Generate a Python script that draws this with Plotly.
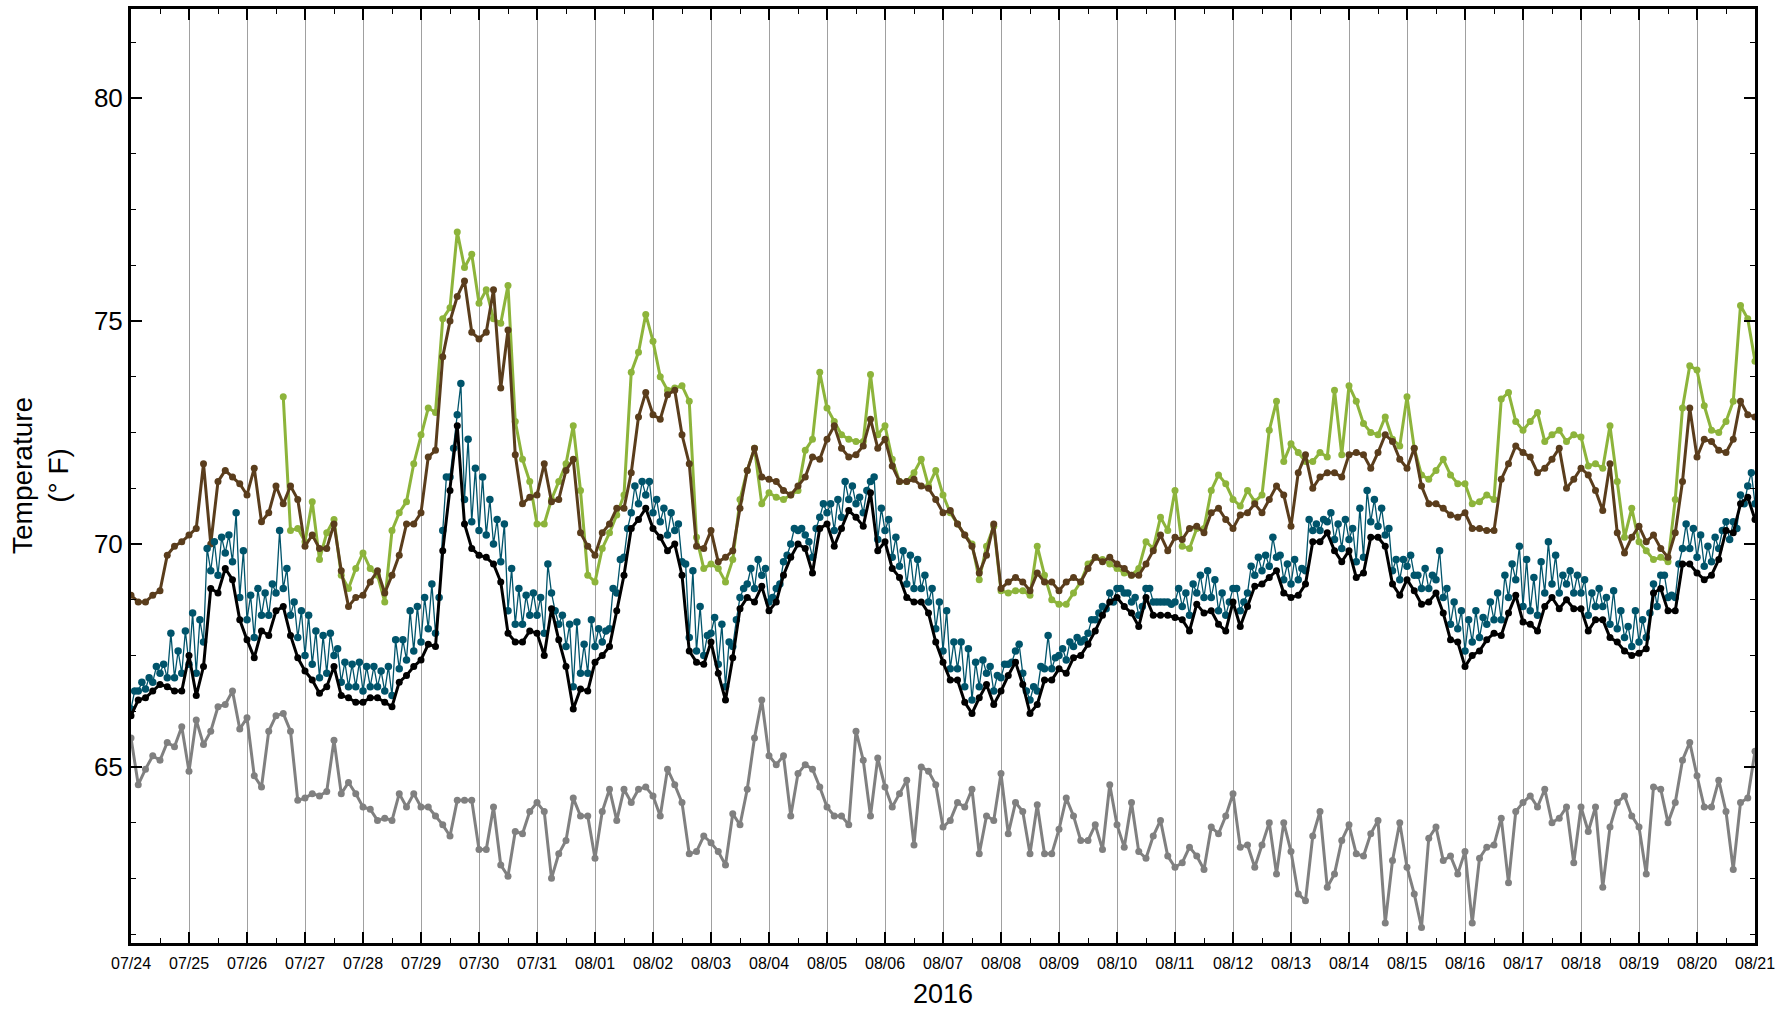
import plotly.graph_objects as go
import pandas as pd

# 3-hourly samples from 2016-07-24 00:00 to 2016-08-21 00:00 (225 points)
times = pd.date_range("2016-07-24 00:00", periods=225, freq="3h")
times_half = times + pd.Timedelta(minutes=90)

brown = [
    68.85, 68.7, 68.7, 68.85, 68.95, 69.75, 69.95, 70.05, 70.2, 70.35, 71.8, 70.0, 71.4, 71.65, 71.5, 71.35, 71.1, 71.7, 70.5, 70.7,
    71.3, 70.9, 71.3, 71.0, 69.95, 70.2, 69.9, 69.9, 70.45, 69.4, 68.6, 68.8, 68.85, 69.15, 69.4, 68.9, 69.3, 69.75,
    70.45, 70.45, 70.7, 71.95, 72.1, 74.2, 75.0, 75.55, 75.9, 74.75, 74.6, 74.75, 75.7, 73.5, 74.8, 72.0, 70.9, 71.05, 71.1, 71.8,
    70.95, 71.0, 71.65, 71.9, 70.25, 69.95, 69.75, 70.25, 70.45, 70.8, 70.8, 71.6, 72.85, 73.4, 72.9, 72.8, 73.35,
    73.45, 72.45, 71.8, 69.95, 69.9, 70.3, 69.6, 69.7, 69.85, 70.8, 71.65, 72.15, 71.5, 71.45, 71.4, 71.2, 71.1, 71.3, 71.5, 71.95,
    71.9, 72.35, 72.65, 72.15, 71.95, 72.0, 72.2, 72.8, 72.15, 72.35, 71.75, 71.4, 71.4, 71.45, 71.3, 71.25, 71.0,
    70.7, 70.75, 70.45, 70.2, 69.95, 69.35, 69.75, 70.45, 69.0, 69.15, 69.25, 69.15, 68.95, 69.35, 69.15, 69.15, 68.95, 69.15, 69.25, 69.15,
    69.45, 69.7, 69.6, 69.7, 69.55, 69.45, 69.3, 69.3, 69.55, 69.85, 70.2, 69.85, 70.15, 70.1, 70.35, 70.4, 70.25,
    70.7, 70.8, 70.55, 70.35, 70.65, 70.7, 70.9, 70.7, 71.0, 71.3, 71.1, 70.4, 71.6, 72.0, 71.25, 71.5, 71.6, 71.6, 71.5, 72.0,
    72.05, 72.0, 71.7, 72.05, 72.45, 72.3, 71.9, 71.7, 72.15, 71.3, 70.9, 70.9, 70.8, 70.65, 70.6, 70.7, 70.35, 70.35,
    70.3, 70.3, 71.45, 71.8, 72.2, 72.05, 71.95, 71.6, 71.7, 71.9, 72.15, 71.25, 71.45, 71.7, 71.55, 71.2, 70.75, 71.8, 70.25, 69.8,
    70.15, 70.4, 70.05, 70.2, 69.9, 69.7, 70.25, 71.4, 73.05, 71.95, 72.35, 72.3, 72.1, 72.05, 72.35, 73.2, 72.9, 72.85,
]

green = [None] * 21 + [
    73.3, 70.3, 70.35, 70.05, 70.95, 69.65, 70.25, 70.55, 69.3, 69.0, 69.45, 69.8, 69.45, 69.3, 68.7, 70.3, 70.7,
    70.95, 71.8, 72.45, 73.05, 72.95, 75.05, 75.3, 77.0, 76.2, 76.5, 75.4, 75.7, 75.05, 74.95, 75.8, 72.75, 71.9, 71.4, 70.45, 70.45,
    71.0, 71.4, 71.8, 72.65, 71.2, 69.3, 69.15, 69.9, 70.25, 70.65, 71.1, 73.85, 74.3, 75.15, 74.55, 73.75, 73.45,
    73.5, 73.55, 73.2, 70.15, 69.45, 69.55, 69.45, 69.15, 69.65, 71.0, 71.65, 72.15, 70.9, 71.15, 71.05, 71.0, 71.1, 71.2, 72.1, 72.35,
    73.85, 73.05, 72.75, 72.45, 72.35, 72.3, 72.3, 73.8, 72.45, 72.65, 71.9, 71.4, 71.4, 71.6, 71.9, 71.3, 71.65,
    71.1, 70.7, 70.45, 70.2, 70.0, 69.2, 69.95, 70.4, 68.95, 68.9, 68.95, 68.95, 68.85, 69.95, 69.3, 68.75, 68.65, 68.65, 68.9, 69.15,
    69.55, 69.7, 69.65, 69.55, 69.45, 69.35, 69.3, 69.45, 70.05, 69.9, 70.6, 70.3, 71.2, 69.95, 69.9, 70.35, 70.35,
    71.2, 71.55, 71.35, 71.0, 70.85, 71.2, 70.95, 71.1, 72.55, 73.2, 71.85, 72.25, 72.05, 71.85, 71.85, 72.05, 71.95, 73.45, 72.0, 73.55,
    73.2, 72.7, 72.5, 72.45, 72.85, 72.35, 72.2, 73.3, 72.15, 71.55, 71.45, 71.65, 71.9, 71.55, 71.35, 71.35, 70.9, 70.95,
    71.1, 71.0, 73.25, 73.4, 72.75, 72.55, 72.75, 72.95, 72.3, 72.45, 72.55, 72.3, 72.45, 72.4, 71.75, 71.8, 71.7, 72.65, 71.4, 70.15,
    70.8, 70.05, 69.85, 69.65, 69.7, 69.6, 71.0, 73.05, 74.0, 73.9, 73.1, 72.55, 72.5, 72.75, 73.2, 75.35, 75.05, 74.1,
]

black = [
    66.15, 66.5, 66.55, 66.7, 66.85, 66.8, 66.7, 66.7, 67.5, 66.6, 67.25, 69.0, 68.9, 69.45, 69.2, 68.3, 67.85, 67.45, 68.05, 67.95,
    68.5, 68.6, 67.95, 67.45, 67.15, 66.95, 66.65, 66.8, 67.25, 66.6, 66.55, 66.45, 66.45, 66.55, 66.55, 66.45, 66.35, 66.9,
    67.05, 67.25, 67.4, 67.75, 67.7, 69.85, 71.2, 72.65, 70.45, 69.9, 69.75, 69.7, 69.55, 69.15, 68.0, 67.8, 67.8, 68.05, 68.0, 67.5,
    68.55, 67.85, 67.25, 66.3, 66.75, 66.7, 67.35, 67.5, 67.7, 68.5, 69.3, 70.35, 70.55, 70.8, 70.35, 70.15, 69.85,
    70.0, 69.3, 67.6, 67.35, 67.3, 67.8, 67.1, 66.5, 67.45, 68.55, 68.8, 68.7, 69.05, 68.5, 68.7, 69.3, 69.7, 70.0, 69.9, 69.35,
    70.35, 70.45, 69.95, 70.35, 70.75, 70.6, 70.4, 71.15, 69.85, 70.05, 69.45, 69.25, 68.8, 68.7, 68.7, 68.45, 67.8,
    67.35, 66.95, 66.95, 66.45, 66.2, 66.55, 66.85, 66.4, 66.7, 67.05, 67.35, 66.85, 66.2, 66.4, 66.95, 66.95, 67.2, 67.1, 67.45, 67.5,
    67.75, 68.05, 68.4, 68.7, 68.8, 68.6, 68.45, 68.15, 68.8, 68.4, 68.4, 68.4, 68.35, 68.3, 68.05, 68.65, 68.45,
    68.5, 68.2, 68.05, 68.7, 68.15, 68.6, 69.05, 69.1, 69.25, 69.4, 68.9, 68.8, 68.85, 69.1, 70.05, 70.05, 70.25, 69.85, 69.6, 69.85,
    69.25, 69.35, 70.15, 70.15, 69.95, 69.1, 68.85, 69.2, 68.95, 68.65, 68.7, 68.9, 68.45, 67.85, 67.8, 67.25, 67.5, 67.6,
    67.85, 68.0, 67.95, 68.45, 68.85, 68.25, 68.2, 68.05, 68.6, 68.8, 68.55, 68.75, 68.55, 68.55, 68.05, 68.3, 68.3, 67.9, 67.8, 67.6,
    67.5, 67.55, 67.65, 68.9, 69.0, 68.5, 68.5, 69.55, 69.55, 69.35, 69.2, 69.3, 69.65, 70.3, 70.25, 70.9, 71.05, 70.55,
]

teal_lo = [
    66.3, 66.7, 66.75, 66.9, 67.1, 67.0, 67.0, 67.1, 67.3, 67.1, 67.8, 69.4, 69.3, 69.8, 69.6, 68.8, 68.3, 67.9, 68.4, 68.4,
    68.9, 69.0, 68.4, 67.9, 67.5, 67.3, 67.0, 67.1, 67.5, 66.9, 66.8, 66.8, 66.7, 66.8, 66.8, 66.7, 66.6, 67.2,
    67.4, 67.6, 67.8, 68.1, 68.0, 70.3, 71.5, 72.9, 71.0, 70.5, 70.3, 70.2, 70.0, 69.6, 68.5, 68.2, 68.2, 68.4, 68.4, 68.0,
    68.9, 68.2, 67.7, 66.8, 67.1, 67.1, 67.7, 67.8, 68.1, 68.9, 69.7, 70.7, 70.9, 71.1, 70.7, 70.5, 70.2,
    70.3, 69.6, 67.9, 67.6, 67.5, 68.0, 67.3, 66.8, 67.7, 68.8, 69.1, 69.0, 69.3, 68.7, 69.0, 69.6, 70.0, 70.3, 70.2, 69.7,
    70.6, 70.7, 70.3, 70.6, 71.0, 70.9, 70.7, 71.4, 70.1, 70.3, 69.7, 69.5, 69.1, 69.0, 69.0, 68.7, 68.1,
    67.6, 67.2, 67.2, 66.8, 66.5, 66.8, 67.1, 66.7, 67.0, 67.3, 67.6, 67.1, 66.5, 66.7, 67.2, 67.2, 67.5, 67.4, 67.7, 67.8,
    68.0, 68.3, 68.6, 68.9, 69.0, 68.9, 68.7, 68.4, 69.0, 68.7, 68.7, 68.7, 68.7, 68.6, 68.4, 68.9, 68.8,
    68.8, 68.5, 68.4, 69.0, 68.5, 68.9, 69.3, 69.4, 69.5, 69.7, 69.2, 69.1, 69.2, 69.4, 70.3, 70.3, 70.5, 70.1, 69.9, 70.1,
    69.6, 69.7, 70.5, 70.4, 70.2, 69.4, 69.2, 69.5, 69.3, 69.0, 69.0, 69.2, 68.8, 68.2, 68.1, 67.6, 67.8, 67.9,
    68.2, 68.3, 68.3, 68.8, 69.2, 68.6, 68.5, 68.4, 68.9, 69.1, 68.9, 69.1, 68.9, 68.9, 68.4, 68.6, 68.6, 68.2, 68.1, 67.9,
    67.7, 67.8, 67.9, 69.1, 69.3, 68.8, 68.8, 69.9, 69.9, 69.7, 69.5, 69.6, 69.9, 70.5, 70.5, 71.1, 71.3, 70.9,
]

teal_hi = [
    66.7, 66.9, 67.0, 67.25, 67.3, 68.0, 67.6, 68.05, 68.45, 68.3, 69.9, 70.05, 70.15, 70.2, 70.7, 69.85, 68.85, 69.0, 68.9, 69.1,
    70.3, 69.45, 68.7, 68.5, 68.4, 68.05, 67.95, 68.0, 67.65, 67.35, 67.3, 67.35, 67.25, 67.25, 67.15, 67.25, 67.85, 67.85,
    68.5, 68.6, 68.8, 69.1, 68.8, 71.5, 72.15, 73.6, 72.35, 71.7, 71.5, 71.0, 70.55, 70.45, 69.45, 69.0, 68.85, 68.9, 68.8, 69.55,
    68.5, 68.4, 68.2, 68.25, 67.75, 68.3, 68.1, 68.05, 69.0, 69.65, 70.35, 71.3, 71.4, 71.4, 71.0, 70.8, 70.7,
    70.45, 69.55, 69.4, 68.6, 67.95, 68.35, 68.2, 67.8, 68.3, 69.0, 69.45, 69.65, 69.45, 68.8, 69.1, 69.75, 70.35, 70.35, 70.05, 70.35,
    70.9, 70.9, 71.0, 71.4, 71.3, 71.05, 71.2, 71.5, 70.8, 70.55, 70.15, 69.85, 69.75, 69.65, 69.3, 69.0, 68.7,
    68.5, 67.8, 67.8, 67.65, 67.35, 67.4, 67.25, 67.05, 67.3, 67.35, 67.75, 66.7, 66.8, 67.25, 67.95, 67.45, 67.65, 67.8, 67.9, 67.85,
    68.3, 68.45, 68.55, 68.7, 69.0, 68.9, 68.8, 68.6, 69.0, 68.7, 68.7, 68.65, 69.0, 68.9, 69.1, 69.3, 69.4,
    69.2, 68.9, 68.7, 69.0, 68.7, 69.5, 69.7, 69.75, 70.15, 69.75, 69.55, 69.65, 69.45, 70.55, 70.45, 70.55, 70.7, 70.45, 70.55, 70.35,
    70.8, 71.2, 71.0, 70.8, 70.35, 69.65, 69.65, 69.75, 69.3, 69.45, 69.3, 69.85, 69.0, 68.7, 68.5, 68.3, 68.5, 68.35,
    68.7, 68.9, 69.3, 69.55, 69.95, 69.65, 69.25, 69.6, 70.05, 69.75, 69.3, 69.4, 69.3, 69.2, 68.9, 69.0, 68.8, 68.95, 68.5, 68.15,
    68.5, 68.3, 68.45, 68.6, 69.3, 68.85, 69.55, 70.45, 70.35, 70.2, 69.95, 70.15, 70.3, 70.1, 70.35, 70.9, 71.6, 71.4,
]

gray = [
    65.65, 64.6, 64.95, 65.25, 65.15, 65.55, 65.45, 65.9, 64.9, 66.05, 65.5, 65.8, 66.35, 66.4, 66.7, 65.85, 66.1, 64.8, 64.55, 65.8,
    66.15, 66.2, 65.8, 64.25, 64.3, 64.4, 64.35, 64.45, 65.6, 64.4, 64.65, 64.4, 64.1, 64.05, 63.8, 63.85, 63.8, 64.4,
    64.1, 64.4, 64.1, 64.1, 63.9, 63.7, 63.45, 64.25, 64.25, 64.25, 63.15, 63.15, 64.1, 62.8, 62.55, 63.55, 63.5, 64.0, 64.2, 64.0,
    62.5, 63.05, 63.35, 64.3, 63.9, 63.9, 62.95, 64.0, 64.5, 63.8, 64.5, 64.2, 64.5, 64.55, 64.35, 63.9, 64.95,
    64.6, 64.2, 63.05, 63.1, 63.45, 63.3, 63.1, 62.8, 63.95, 63.7, 64.5, 65.65, 66.5, 65.25, 65.05, 65.25, 63.9, 64.85, 65.05, 64.95,
    64.55, 64.1, 63.9, 63.9, 63.7, 65.8, 65.15, 63.9, 65.2, 64.55, 64.1, 64.4, 64.7, 63.25, 65.0, 64.9, 64.6,
    63.65, 63.8, 64.2, 64.1, 64.5, 63.05, 63.9, 63.8, 64.85, 63.5, 64.2, 64.0, 63.05, 64.15, 63.05, 63.05, 63.6, 64.3, 63.9, 63.35,
    63.35, 63.7, 63.15, 64.6, 63.7, 63.2, 64.2, 63.1, 62.95, 63.45, 63.8, 63.0, 62.75, 62.85, 63.2, 63.0, 62.7,
    63.65, 63.5, 63.9, 64.4, 63.2, 63.25, 62.75, 63.25, 63.75, 62.6, 63.75, 63.1, 62.15, 62.0, 63.45, 64.0, 62.3, 62.6, 63.35, 63.7,
    63.05, 63.0, 63.5, 63.8, 61.5, 62.9, 63.75, 62.75, 62.15, 61.4, 63.4, 63.65, 62.9, 63.0, 62.6, 63.1, 61.5, 62.95,
    63.2, 63.25, 63.85, 62.4, 64.0, 64.2, 64.35, 64.1, 64.5, 63.75, 63.85, 64.1, 62.85, 64.1, 63.55, 64.1, 62.3, 63.65, 64.2, 64.35,
    63.9, 63.65, 62.6, 64.55, 64.5, 63.75, 64.2, 65.15, 65.55, 64.8, 64.1, 64.1, 64.7, 64.0, 62.7, 64.2, 64.3, 65.35,
]

for nm, arr in [("brown", brown), ("green", green), ("black", black),
                ("teal_lo", teal_lo), ("teal_hi", teal_hi), ("gray", gray)]:
    assert len(arr) == len(times), (nm, len(arr))

C_GREEN = "#8db43b"
C_BROWN = "#5a3d1c"
C_TEAL = "#00546b"
C_BLACK = "#000000"
C_GRAY = "#808080"

# the two teal readings per interval, joined as one noisy series
teal_x, teal_y = [], []
for t0, t1, lo, hi in zip(times, times_half, teal_lo, teal_hi):
    teal_x += [t0, t1]
    teal_y += [lo, hi]

fig = go.Figure()


def add(x, y, color, width=3.0, size=7, mode="lines+markers"):
    fig.add_trace(go.Scatter(
        x=x, y=y, mode=mode,
        line=dict(color=color, width=width),
        marker=dict(color=color, size=size),
        showlegend=False, connectgaps=False, hoverinfo="x+y"))


add(times, green, C_GREEN)
add(times, brown, C_BROWN)
add(teal_x, teal_y, C_TEAL, width=1.3, size=7.5)
add(times, black, C_BLACK)
add(times, gray, C_GRAY)

FONT = "Liberation Sans, Arial, Helvetica, sans-serif"

fig.update_layout(
    width=1787, height=1010,
    margin=dict(l=131, r=32, t=6, b=67),
    paper_bgcolor="white", plot_bgcolor="white",
    showlegend=False,
    font=dict(family=FONT, color="black"),
)

fig.update_xaxes(
    type="date",
    range=["2016-07-24 00:00", "2016-08-21 00:00"],
    tickformat="%m/%d", dtick=86400000, tick0="2016-07-24",
    ticks="inside", ticklen=11, tickwidth=1.5, tickcolor="black",
    showline=True, linecolor="black", linewidth=3, mirror="ticks",
    showgrid=True, gridcolor="#a0a0a0", gridwidth=1.2,
    zeroline=False, ticklabelstandoff=4,
    tickfont=dict(size=16, family=FONT, color="black"),
    minor=dict(dtick=43200000, ticks="inside", ticklen=5, tickwidth=1.2,
               tickcolor="black", showgrid=False),
)

fig.update_yaxes(
    range=[61.05, 82.0],
    dtick=5, tick0=0,
    ticks="inside", ticklen=11, tickwidth=1.5, tickcolor="black",
    showline=True, linecolor="black", linewidth=3, mirror="ticks",
    showgrid=False, zeroline=False,
    tickfont=dict(size=26, family=FONT, color="black"),
    minor=dict(dtick=1.25, tick0=0, ticks="inside", ticklen=5, tickwidth=1.2,
               tickcolor="black", showgrid=False),
)

fig.add_annotation(
    text="Temperature<br>(° F)", textangle=-90,
    x=0, xref="paper", y=0.5, yref="paper",
    xanchor="center", yanchor="middle", xshift=-91,
    showarrow=False, font=dict(size=28, family=FONT, color="black"),
)
fig.add_annotation(
    text="2016",
    x=0.5, xref="paper", y=0, yref="paper",
    xanchor="center", yanchor="middle", yshift=-51,
    showarrow=False, font=dict(size=27, family=FONT, color="black"),
)

fig.write_html(
    "out.html",
    config={"displayModeBar": False},
    post_script="document.body.style.margin='0';document.body.style.overflow='hidden';",
)
